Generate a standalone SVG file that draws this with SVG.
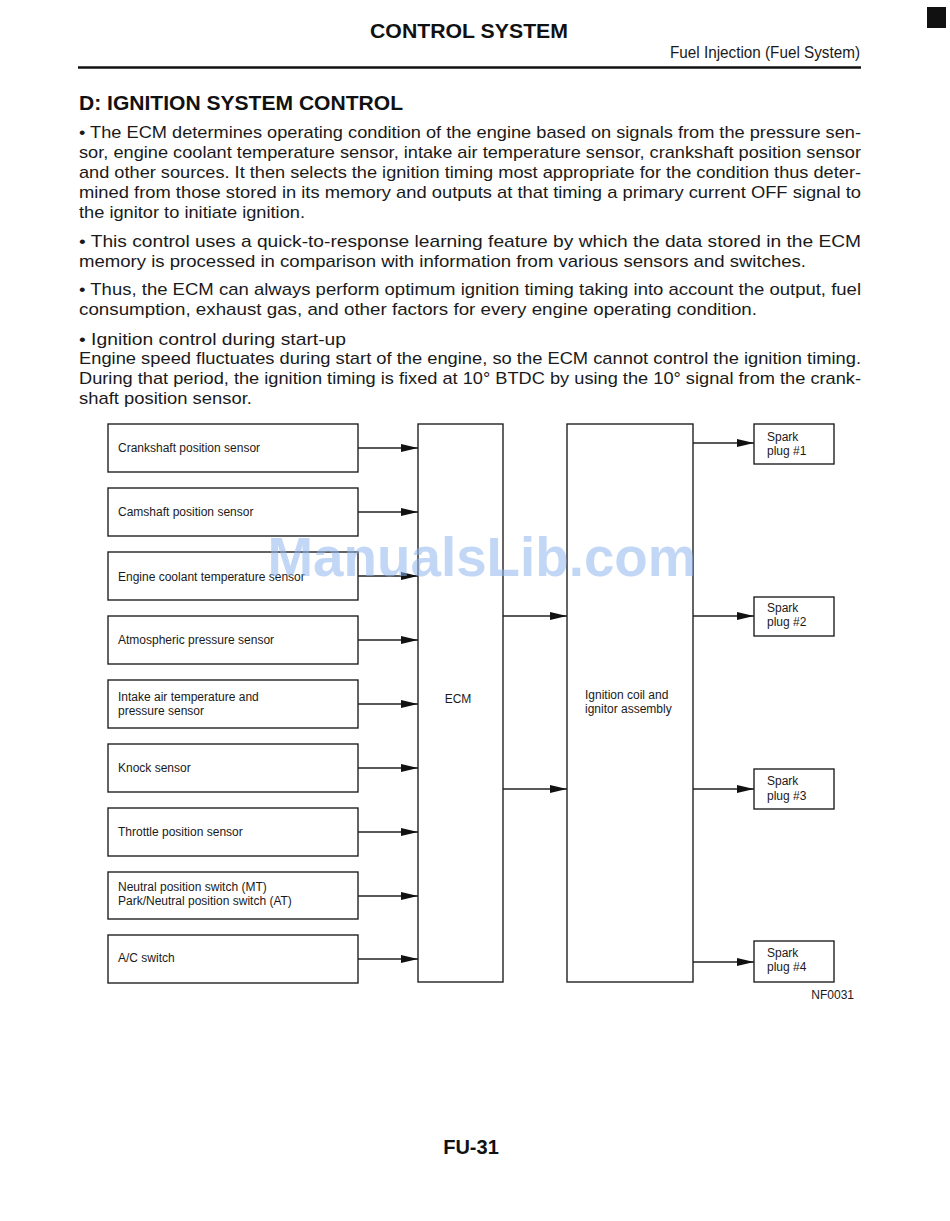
<svg xmlns="http://www.w3.org/2000/svg" width="950" height="1221" viewBox="0 0 950 1221">
<style>
  .body { font-family: "Liberation Sans", Arial, sans-serif; font-size: 17px; fill: #1a1a1a; }
  .lbl { font-family: "Liberation Sans", Arial, sans-serif; font-size: 12px; fill: #1a1a1a; }
  .bold { font-family: "Liberation Sans", Arial, sans-serif; font-weight: bold; fill: #111; }
  .box { fill: #fff; stroke: #222; stroke-width: 1.4; }
  .conn line { stroke: #222; stroke-width: 1.4; }
</style>
<defs>
  <marker id="arr" markerUnits="userSpaceOnUse" markerWidth="18" markerHeight="10" refX="17" refY="5" orient="auto">
    <path d="M0,1 L17,5 L0,9 z" fill="#111"/>
  </marker>
</defs>
<rect width="950" height="1221" fill="#fff"/>

<!-- header -->
<rect x="927" y="7" width="19" height="21" fill="#111"/>
<text class="bold" x="469" y="38" font-size="21" text-anchor="middle" textLength="198" lengthAdjust="spacingAndGlyphs">CONTROL SYSTEM</text>
<text class="body" x="860" y="58" font-size="15" text-anchor="end" textLength="190" lengthAdjust="spacingAndGlyphs">Fuel Injection (Fuel System)</text>
<line x1="78" y1="67.5" x2="861" y2="67.5" stroke="#111" stroke-width="2.5"/>
<text class="bold" x="79" y="110" font-size="21" textLength="324" lengthAdjust="spacingAndGlyphs">D: IGNITION SYSTEM CONTROL</text>

<!-- paragraph 1 -->
<text class="body" x="79" y="138" textLength="782" lengthAdjust="spacingAndGlyphs">• The ECM determines operating condition of the engine based on signals from the pressure sen-</text>
<text class="body" x="79" y="158" textLength="782" lengthAdjust="spacingAndGlyphs">sor, engine coolant temperature sensor, intake air temperature sensor, crankshaft position sensor</text>
<text class="body" x="79" y="178" textLength="782" lengthAdjust="spacingAndGlyphs">and other sources. It then selects the ignition timing most appropriate for the condition thus deter-</text>
<text class="body" x="79" y="198" textLength="782" lengthAdjust="spacingAndGlyphs">mined from those stored in its memory and outputs at that timing a primary current OFF signal to</text>
<text class="body" x="79" y="218" textLength="226" lengthAdjust="spacingAndGlyphs">the ignitor to initiate ignition.</text>

<!-- paragraph 2 -->
<text class="body" x="79" y="247" textLength="782" lengthAdjust="spacingAndGlyphs">• This control uses a quick-to-response learning feature by which the data stored in the ECM</text>
<text class="body" x="79" y="267" textLength="727" lengthAdjust="spacingAndGlyphs">memory is processed in comparison with information from various sensors and switches.</text>

<!-- paragraph 3 -->
<text class="body" x="79" y="295" textLength="782" lengthAdjust="spacingAndGlyphs">• Thus, the ECM can always perform optimum ignition timing taking into account the output, fuel</text>
<text class="body" x="79" y="315" textLength="678" lengthAdjust="spacingAndGlyphs">consumption, exhaust gas, and other factors for every engine operating condition.</text>

<!-- paragraph 4 -->
<text class="body" x="79" y="345" textLength="267" lengthAdjust="spacingAndGlyphs">• Ignition control during start-up</text>
<text class="body" x="79" y="364" textLength="782" lengthAdjust="spacingAndGlyphs">Engine speed fluctuates during start of the engine, so the ECM cannot control the ignition timing.</text>
<text class="body" x="79" y="384" textLength="782" lengthAdjust="spacingAndGlyphs">During that period, the ignition timing is fixed at 10° BTDC by using the 10° signal from the crank-</text>
<text class="body" x="79" y="404" textLength="173" lengthAdjust="spacingAndGlyphs">shaft position sensor.</text>

<!-- sensors -->
<g id="crankshaft"><rect class="box" x="108" y="424" width="250" height="48"/><text class="lbl" x="118" y="452">Crankshaft position sensor</text></g>
<g id="camshaft"><rect class="box" x="108" y="488" width="250" height="48"/><text class="lbl" x="118" y="516">Camshaft position sensor</text></g>
<g id="coolant"><rect class="box" x="108" y="552" width="250" height="48"/><text class="lbl" x="118" y="581">Engine coolant temperature sensor</text></g>
<g id="atmospheric"><rect class="box" x="108" y="616" width="250" height="48"/><text class="lbl" x="118" y="644">Atmospheric pressure sensor</text></g>
<g id="intake"><rect class="box" x="108" y="680" width="250" height="48"/><text class="lbl" x="118" y="701">Intake air temperature and</text><text class="lbl" x="118" y="715">pressure sensor</text></g>
<g id="knock"><rect class="box" x="108" y="744" width="250" height="48"/><text class="lbl" x="118" y="772">Knock sensor</text></g>
<g id="throttle"><rect class="box" x="108" y="808" width="250" height="48"/><text class="lbl" x="118" y="836">Throttle position sensor</text></g>
<g id="neutral"><rect class="box" x="108" y="872" width="250" height="47"/><text class="lbl" x="118" y="891">Neutral position switch (MT)</text><text class="lbl" x="118" y="905">Park/Neutral position switch (AT)</text></g>
<g id="ac"><rect class="box" x="108" y="935" width="250" height="48"/><text class="lbl" x="118" y="962">A/C switch</text></g>

<!-- ECM -->
<g id="ecm"><rect class="box" x="418" y="424" width="85" height="558"/><text class="lbl" x="458" y="703" text-anchor="middle">ECM</text></g>

<!-- Ignition coil -->
<g id="ignition"><rect class="box" x="567" y="424" width="126" height="558"/><text class="lbl" x="585" y="699">Ignition coil and</text><text class="lbl" x="585" y="713">ignitor assembly</text></g>

<!-- spark plugs -->
<g id="plug1"><rect class="box" x="754" y="424" width="80" height="40"/><text class="lbl" x="767" y="441">Spark</text><text class="lbl" x="767" y="455">plug #1</text></g>
<g id="plug2"><rect class="box" x="754" y="597" width="80" height="39"/><text class="lbl" x="767" y="612">Spark</text><text class="lbl" x="767" y="626">plug #2</text></g>
<g id="plug3"><rect class="box" x="754" y="769" width="80" height="40"/><text class="lbl" x="767" y="785">Spark</text><text class="lbl" x="767" y="800">plug #3</text></g>
<g id="plug4"><rect class="box" x="754" y="941" width="80" height="41"/><text class="lbl" x="767" y="957">Spark</text><text class="lbl" x="767" y="971">plug #4</text></g>

<!-- connectors -->
<g class="conn" id="connectors">
  <line x1="358" y1="448" x2="418" y2="448" marker-end="url(#arr)"/>
  <line x1="358" y1="512" x2="418" y2="512" marker-end="url(#arr)"/>
  <line x1="358" y1="576" x2="418" y2="576" marker-end="url(#arr)"/>
  <line x1="358" y1="640" x2="418" y2="640" marker-end="url(#arr)"/>
  <line x1="358" y1="704" x2="418" y2="704" marker-end="url(#arr)"/>
  <line x1="358" y1="768" x2="418" y2="768" marker-end="url(#arr)"/>
  <line x1="358" y1="832" x2="418" y2="832" marker-end="url(#arr)"/>
  <line x1="358" y1="896" x2="418" y2="896" marker-end="url(#arr)"/>
  <line x1="358" y1="959" x2="418" y2="959" marker-end="url(#arr)"/>
  <line x1="503" y1="616" x2="567" y2="616" marker-end="url(#arr)"/>
  <line x1="503" y1="789" x2="567" y2="789" marker-end="url(#arr)"/>
  <line x1="693" y1="443" x2="754" y2="443" marker-end="url(#arr)"/>
  <line x1="693" y1="616" x2="754" y2="616" marker-end="url(#arr)"/>
  <line x1="693" y1="789" x2="754" y2="789" marker-end="url(#arr)"/>
  <line x1="693" y1="962" x2="754" y2="962" marker-end="url(#arr)"/>
</g>

<text class="lbl" x="854" y="999" text-anchor="end">NF0031</text>

<!-- watermark -->
<text class="bold" x="482" y="576" font-size="55" text-anchor="middle" style="fill:#8fb6ec;fill-opacity:0.55" textLength="429" lengthAdjust="spacingAndGlyphs">ManualsLib.com</text>

<text class="bold" x="471" y="1154" font-size="20" text-anchor="middle">FU-31</text>
</svg>
